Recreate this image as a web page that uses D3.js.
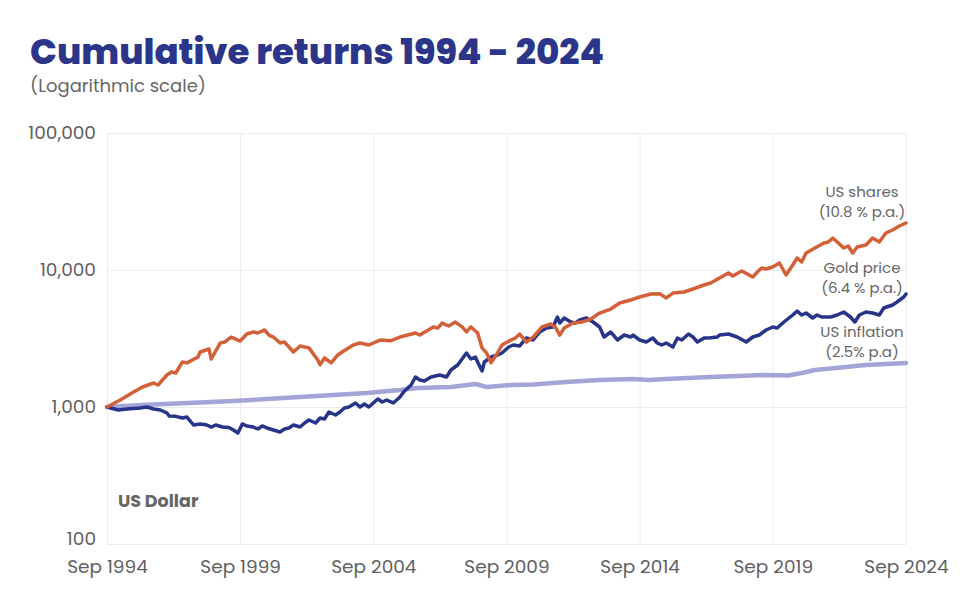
<!DOCTYPE html>
<html>
<head>
<meta charset="utf-8">
<script src="https://cdn.jsdelivr.net/npm/d3@7"></script>
<style>
  body { margin: 0; background: #fff; }
  svg text { font-family: Poppins, "Noto Sans", sans-serif; }
</style>
</head>
<body>
<svg id="chart" width="960" height="612"></svg>
<script>
//Tick labels and series (value of 1,000 invested in Sep 1994)
var xTicks = ["1994-09", "1999-09", "2004-09", "2009-09", "2014-09", "2019-09", "2024-09"];
var yTicks = [100, 1000, 10000, 100000];

var seriesNames = ["US shares", "Gold price", "US inflation"];
var seriesRates = ["(10.8 % p.a.)", "(6.4 % p.a.)", "(2.5% p.a)"];

var sharesData = [
  ["1994-09", 1000], ["1995-03", 1125], ["1995-09", 1287], ["1996-01", 1400], ["1996-06", 1497],
  ["1996-08", 1447], ["1996-12", 1712], ["1997-02", 1801], ["1997-04", 1771], ["1997-07", 2130],
  ["1997-09", 2100], ["1998-02", 2317], ["1998-03", 2520], ["1998-07", 2650], ["1998-08", 2240],
  ["1998-12", 2930], ["1999-02", 2980], ["1999-05", 3240], ["1999-09", 3030], ["1999-12", 3410],
  ["2000-03", 3530], ["2000-05", 3470], ["2000-08", 3650], ["2000-10", 3350], ["2000-12", 3240],
  ["2001-03", 2930], ["2001-05", 2980], ["2001-09", 2520], ["2001-12", 2790], ["2002-04", 2700],
  ["2002-08", 2200], ["2002-09", 2030], ["2002-11", 2280], ["2003-02", 2100], ["2003-05", 2400],
  ["2003-07", 2520], ["2003-12", 2835], ["2004-03", 2930], ["2004-07", 2835], ["2004-12", 3080],
  ["2005-05", 3050], ["2005-09", 3240], ["2006-04", 3470], ["2006-06", 3350], ["2006-12", 3840],
  ["2007-02", 3770], ["2007-04", 4100], ["2007-07", 3900], ["2007-10", 4170], ["2008-01", 3840],
  ["2008-03", 3530], ["2008-05", 3840], ["2008-08", 3470], ["2008-10", 2700], ["2008-12", 2480],
  ["2009-02", 2100], ["2009-05", 2480], ["2009-07", 2835], ["2009-11", 3080], ["2010-01", 3190],
  ["2010-03", 3410], ["2010-06", 2980], ["2010-09", 3240], ["2011-01", 3840], ["2011-05", 4035],
  ["2011-07", 3840], ["2011-09", 3350], ["2011-11", 3770], ["2012-03", 4100], ["2012-07", 4170],
  ["2012-11", 4390], ["2013-03", 4850], ["2013-08", 5190], ["2013-12", 5740], ["2014-05", 6040],
  ["2014-09", 6350], ["2015-02", 6680], ["2015-06", 6720], ["2015-09", 6250], ["2015-12", 6790],
  ["2016-05", 6910], ["2016-09", 7270], ["2017-02", 7770], ["2017-05", 8040], ["2017-09", 8740],
  ["2018-01", 9510], ["2018-03", 9040], ["2018-07", 9830], ["2018-12", 8890], ["2019-02", 9670],
  ["2019-04", 10340], ["2019-06", 10170], ["2019-09", 10520], ["2019-12", 11250], ["2020-03", 9190],
  ["2020-06", 10880], ["2020-08", 12230], ["2020-10", 11440], ["2020-12", 13310], ["2021-04", 14470],
  ["2021-08", 15740], ["2021-10", 16010], ["2021-12", 17120], ["2022-02", 16010], ["2022-05", 14470],
  ["2022-07", 14970], ["2022-09", 13310], ["2022-11", 14720], ["2023-03", 15220], ["2023-06", 17120],
  ["2023-09", 16010], ["2023-12", 18630], ["2024-03", 19590], ["2024-06", 20950], ["2024-09", 22030]
];

var goldData = [
  ["1994-09", 1000], ["1995-02", 951], ["1995-06", 967], ["1995-12", 983], ["1996-03", 1000],
  ["1996-06", 967], ["1996-09", 951], ["1996-12", 904], ["1997-01", 860], ["1997-04", 855],
  ["1997-07", 831], ["1997-09", 845], ["1997-12", 739], ["1998-03", 752], ["1998-06", 739],
  ["1998-08", 714], ["1998-10", 739], ["1999-01", 714], ["1999-04", 710], ["1999-06", 679],
  ["1999-08", 646], ["1999-10", 752], ["1999-12", 727], ["2000-03", 714], ["2000-05", 691],
  ["2000-07", 727], ["2000-09", 703], ["2000-12", 679], ["2001-03", 657], ["2001-05", 691],
  ["2001-07", 703], ["2001-09", 739], ["2001-12", 714], ["2002-02", 764], ["2002-04", 804],
  ["2002-07", 764], ["2002-09", 831], ["2002-11", 817], ["2003-01", 919], ["2003-04", 874],
  ["2003-06", 919], ["2003-08", 983], ["2003-10", 1000], ["2004-01", 1070], ["2004-03", 1000],
  ["2004-05", 1052], ["2004-07", 1000], ["2004-11", 1144], ["2005-01", 1088], ["2005-03", 1125],
  ["2005-06", 1070], ["2005-09", 1183], ["2005-11", 1308], ["2006-02", 1447], ["2006-04", 1656],
  ["2006-06", 1574], ["2006-08", 1549], ["2006-11", 1656], ["2007-03", 1712], ["2007-06", 1656],
  ["2007-08", 1862], ["2007-11", 2026], ["2008-03", 2478], ["2008-05", 2241], ["2008-07", 2317],
  ["2008-08", 2130], ["2008-10", 1831], ["2008-11", 2130], ["2009-02", 2317], ["2009-05", 2396],
  ["2009-07", 2478], ["2009-10", 2740], ["2009-12", 2835], ["2010-03", 2788], ["2010-06", 3189],
  ["2010-09", 3084], ["2010-12", 3527], ["2011-03", 3773], ["2011-06", 3837], ["2011-08", 4539],
  ["2011-09", 4103], ["2011-11", 4463], ["2012-02", 4173], ["2012-04", 4103], ["2012-06", 4316],
  ["2012-09", 4463], ["2012-12", 4173], ["2013-03", 3837], ["2013-05", 3243], ["2013-08", 3527],
  ["2013-11", 3084], ["2014-02", 3354], ["2014-05", 3243], ["2014-06", 3354], ["2014-09", 3084],
  ["2014-12", 2982], ["2015-03", 3189], ["2015-05", 2932], ["2015-07", 2835], ["2015-09", 2932],
  ["2015-12", 2741], ["2016-02", 3189], ["2016-04", 3084], ["2016-07", 3411], ["2016-09", 3243],
  ["2016-11", 2982], ["2017-02", 3189], ["2017-05", 3200], ["2017-08", 3243], ["2017-09", 3354],
  ["2018-01", 3411], ["2018-05", 3243], ["2018-09", 2982], ["2018-12", 3243], ["2019-03", 3354],
  ["2019-06", 3648], ["2019-09", 3837], ["2019-11", 3773], ["2020-02", 4173], ["2020-06", 4694],
  ["2020-08", 5020], ["2020-10", 4694], ["2020-12", 4854], ["2021-03", 4463], ["2021-05", 4694],
  ["2021-07", 4539], ["2021-11", 4539], ["2022-02", 4694], ["2022-05", 4937], ["2022-08", 4539],
  ["2022-10", 4173], ["2022-12", 4694], ["2023-03", 4937], ["2023-06", 4854], ["2023-09", 4694],
  ["2023-11", 5280], ["2024-03", 5553], ["2024-05", 5840], ["2024-08", 6352], ["2024-09", 6680]
];

var inflationData = [
  ["1994-09", 1000], ["1996-01", 1034], ["1999-06", 1106], ["2001-12", 1183], ["2004-06", 1266],
  ["2005-09", 1330], ["2006-05", 1376], ["2007-08", 1400], ["2008-07", 1471], ["2008-12", 1400],
  ["2009-11", 1447], ["2010-09", 1460], ["2011-12", 1522], ["2013-03", 1574], ["2014-06", 1600],
  ["2015-01", 1574], ["2015-09", 1600], ["2017-05", 1656], ["2019-06", 1712], ["2020-04", 1700],
  ["2020-10", 1771], ["2021-04", 1862], ["2022-06", 1959], ["2023-03", 2026], ["2024-09", 2095]
];

var colors = ["#d4603a", "#28348a", "#a4a4d8"];

//Chart frame
var plotLeft = 107, plotRight = 906, plotTop = 133, plotBottom = 544;
var parse = d3.timeParse("%Y-%m");
var svg = d3.select("#chart");

var x = d3.scaleTime()
    .domain([parse(xTicks[0]), parse(xTicks[xTicks.length - 1])])
    .range([plotLeft, plotRight]);

var y = d3.scaleLog()
    .domain([100, 100000])
    .range([plotBottom, plotTop]);

//Title and subtitle
svg.append("text")
    .attr("x", 30).attr("y", 64)
    .attr("fill", "#2b358a")
    .attr("font-size", 35.5)
    .attr("font-weight", 800)
    .text("Cumulative returns 1994 - 2024");

svg.append("text")
    .attr("x", 30).attr("y", 92)
    .attr("fill", "#666")
    .attr("font-size", 18)
    .text("(Logarithmic scale)");

//Gridlines and axes
var xAxis = svg.append("g")
    .attr("transform", `translate(0,${plotBottom})`)
    .call(d3.axisBottom(x)
        .tickValues(xTicks.map(parse))
        .tickSize(-(plotBottom - plotTop))
        .tickPadding(16)
        .tickFormat(d3.timeFormat("%b %Y")));

var yAxis = svg.append("g")
    .attr("transform", `translate(${plotLeft},0)`)
    .call(d3.axisLeft(y)
        .tickValues(yTicks)
        .tickSize(-(plotRight - plotLeft))
        .tickPadding(11)
        .tickFormat(d3.format(",")));

[xAxis, yAxis].forEach(function(g){
    g.select(".domain").remove();
    g.selectAll(".tick line").attr("stroke", "#ececf0").attr("stroke-width", 1);
    g.selectAll(".tick text")
        .attr("fill", "#5f5f5f")
        .attr("font-size", 18.5)
        .style("font-family", "Poppins, 'Noto Sans', sans-serif");
});

//the lowest label sits on its gridline rather than centred on it
yAxis.selectAll(".tick text")
    .filter(function(d){ return d == 100; })
    .attr("dy", "0");

//Lines: inflation underneath, then gold, then shares
var line = d3.line()
    .x(function(d){ return x(parse(d[0])); })
    .y(function(d){ return y(d[1]); });

var allSeries = [sharesData, goldData, inflationData];
[2, 1, 0].forEach(function(i){
    svg.append("path")
        .datum(allSeries[i])
        .attr("d", line)
        .attr("fill", "none")
        .attr("stroke", colors[i])
        .attr("stroke-width", i == 2 ? 4.5 : 3.5)
        .attr("stroke-linejoin", "round")
        .attr("stroke-linecap", "round");
});

//Series labels at the right end
var labelY = [[197, 217], [273, 293], [337, 357]];
seriesNames.forEach(function(name, i){
    var t = svg.append("text")
        .attr("text-anchor", "middle")
        .attr("fill", "#666")
        .attr("font-size", 15);
    t.append("tspan").attr("x", 862).attr("y", labelY[i][0]).text(name);
    t.append("tspan").attr("x", 862).attr("y", labelY[i][1]).text(seriesRates[i]);
});

//Currency note
svg.append("text")
    .attr("x", 118).attr("y", 507)
    .attr("fill", "#666")
    .attr("font-size", 17.5)
    .attr("font-weight", 700)
    .text("US Dollar");
</script>
</body>
</html>
